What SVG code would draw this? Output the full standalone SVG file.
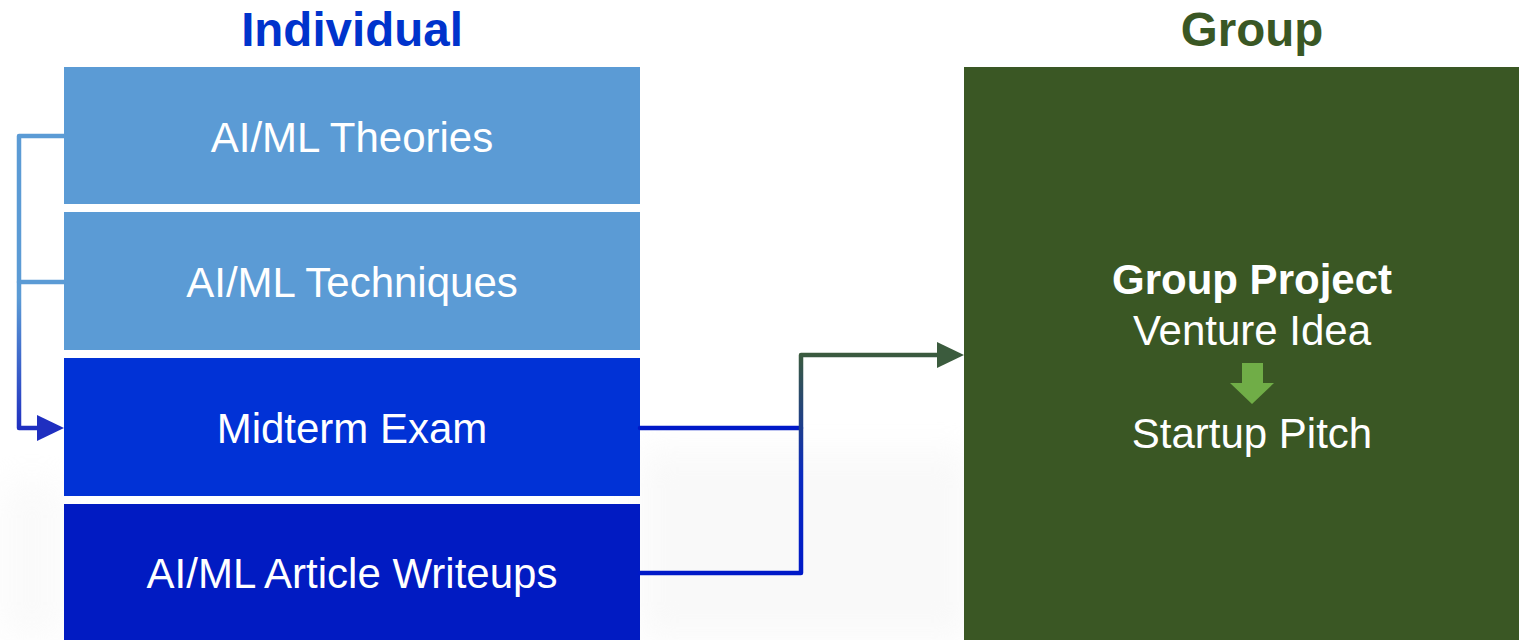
<svg xmlns="http://www.w3.org/2000/svg" width="1519" height="640" viewBox="0 0 1519 640">
  <style>
    .head { font-family: "Liberation Sans", Arial, sans-serif; font-weight: bold; font-size: 47.5px; text-anchor: middle; }
    .lbl { font-family: "Liberation Sans", Arial, sans-serif; font-size: 42px; fill: #ffffff; text-anchor: middle; }
    .bold { font-weight: bold; }
    .wire { fill: none; stroke-width: 4.5; stroke-linejoin: round; stroke-linecap: round; }
  </style>
  <defs>
    <linearGradient id="gradLeft" gradientUnits="userSpaceOnUse" x1="0" y1="136" x2="0" y2="430">
      <stop offset="0" stop-color="#5B9BD5"/>
      <stop offset="0.55" stop-color="#5B9BD5"/>
      <stop offset="1" stop-color="#1E2EC0"/>
    </linearGradient>
    <linearGradient id="gradRight" gradientUnits="userSpaceOnUse" x1="0" y1="575" x2="0" y2="353">
      <stop offset="0" stop-color="#0019C8"/>
      <stop offset="0.45" stop-color="#0A2AC0"/>
      <stop offset="1" stop-color="#3B5B3D"/>
    </linearGradient>
    <filter id="haze" x="-20%" y="-50%" width="140%" height="200%">
      <feGaussianBlur stdDeviation="16"/>
    </filter>
  </defs>

  <!-- page background with faint haze -->
  <rect x="0" y="0" width="1519" height="640" fill="#ffffff"/>
  <g id="backdrop" filter="url(#haze)" opacity="0.35">
    <rect x="640" y="450" width="330" height="190" fill="#eeeeee"/>
    <rect x="0" y="480" width="64" height="160" fill="#f2f2f2"/>
  </g>

  <!-- headings -->
  <text id="title-individual" class="head" x="352" y="46" fill="#0033CC">Individual</text>
  <text id="title-group" class="head" x="1252" y="46" fill="#3A5724">Group</text>

  <!-- individual column -->
  <g id="node-theories">
    <rect x="64" y="67" width="576" height="137" fill="#5B9BD5"/>
    <text class="lbl" x="352" y="152">AI/ML Theories</text>
  </g>
  <g id="node-techniques">
    <rect x="64" y="212" width="576" height="138" fill="#5B9BD5"/>
    <text class="lbl" x="352" y="297">AI/ML Techniques</text>
  </g>
  <g id="node-midterm">
    <rect x="64" y="358" width="576" height="138" fill="#0132D6"/>
    <text class="lbl" x="352" y="443">Midterm Exam</text>
  </g>
  <g id="node-writeups">
    <rect x="64" y="504" width="576" height="136" fill="#011BC2"/>
    <text class="lbl" x="352" y="588">AI/ML Article Writeups</text>
  </g>

  <!-- group column -->
  <g id="node-group-project">
    <rect x="964" y="67" width="555" height="573" fill="#3A5724"/>
    <text class="lbl bold" x="1252" y="294">Group Project</text>
    <text class="lbl" x="1252" y="345">Venture Idea</text>
    <polygon points="1242,363 1263,363 1263,383 1274,383 1252,404 1230,383 1242,383" fill="#70AD47"/>
    <text class="lbl" x="1252" y="448">Startup Pitch</text>
  </g>

  <!-- connectors -->
  <g id="connectors">
    <path class="wire" stroke="url(#gradLeft)" d="M64,136 H19 V428 H40"/>
    <path class="wire" stroke="#5B9BD5" d="M64,282 H19"/>
    <polygon points="37,415 64,428 37,441" fill="#1F2FC0"/>

    <path class="wire" stroke="#0019C8" d="M640,428 H801"/>
    <path class="wire" stroke="url(#gradRight)" d="M640,573 H801 V355 H940"/>
    <polygon points="937,342 964,355 937,368" fill="#3B5B3D"/>
  </g>
</svg>
